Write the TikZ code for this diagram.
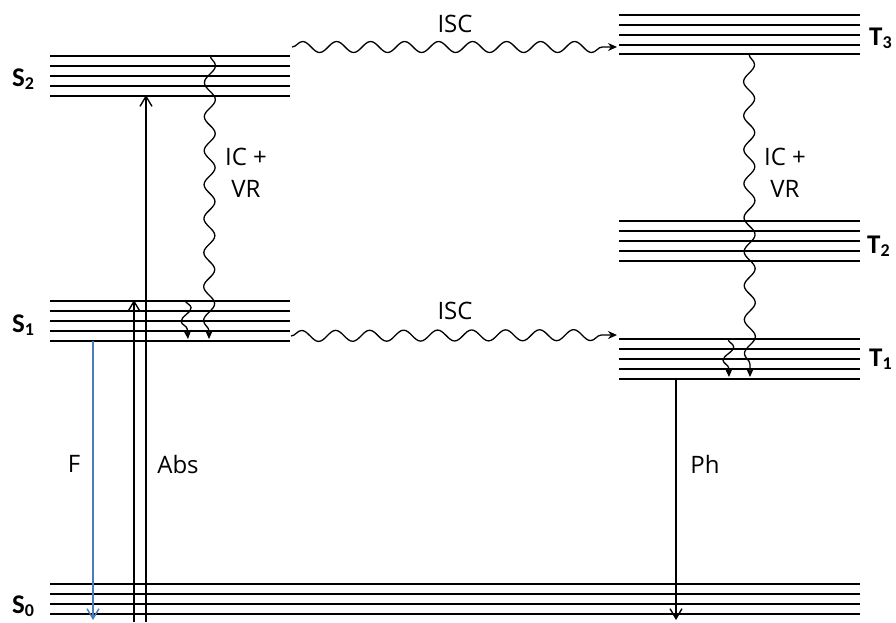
\documentclass[tikz,border=0pt]{standalone}
\usepackage{fontspec}
\setmainfont{Open Sans}
\newfontfamily\lvlfont{Carlito}
\usetikzlibrary{arrows.meta,decorations.pathmorphing}
\definecolor{fluoblue}{RGB}{74,126,187}
\newcommand{\lvlname}[2]{#1\raisebox{-0.3ex}{\fontsize{18}{18}\selectfont #2}}
\tikzset{
  level/.style={line width=1.2pt},
  ground/.style={line width=2.8pt},
  wavy/.style={-{Stealth[length=9pt,width=8pt]}, line width=1.3pt, decorate,
    decoration={snake, amplitude=5.5pt, segment length=34pt, post length=6pt}},
  shortwavy/.style={wavy, decoration={snake, amplitude=5.5pt, segment length=26pt, post length=5pt}},
  radiative/.style={-{Straight Barb[length=10pt,width=12pt]}, line width=1.4pt},
  lbl/.style={font=\fontsize{24}{32}\selectfont, align=center, inner sep=0pt},
  statelbl/.style={font=\lvlfont\bfseries\fontsize{27}{30}\selectfont, anchor=base west, inner sep=0pt}
}
\begin{document}
\begin{tikzpicture}[x=1pt,y=-1pt]
\useasboundingbox (0,0) rectangle (896,622);
\foreach \y in {56,66,76,86} \draw[level] (50,\y) -- (290,\y);
\draw[ground] (50,96) -- (290,96);
\foreach \y in {301,311,321,331} \draw[level] (50,\y) -- (290,\y);
\draw[ground] (50,341) -- (290,341);
\foreach \y in {584,594,604,614} \draw[level] (50,\y) -- (860,\y);
\foreach \y in {15,25,35,45} \draw[level] (619,\y) -- (860,\y);
\draw[ground] (619,54) -- (860,54);
\foreach \y in {221,231,241,251} \draw[level] (619,\y) -- (860,\y);
\draw[ground] (619,261) -- (860,261);
\foreach \y in {339,349,359,369} \draw[level] (619,\y) -- (860,\y);
\draw[ground] (619,379) -- (860,379);
\node[statelbl] (S2) at (12,86) {\lvlname{S}{2}};
\node[statelbl] (S1) at (12,332) {\lvlname{S}{1}};
\node[statelbl] (S0) at (12,613) {\lvlname{S}{0}};
\node[statelbl] (T3) at (869,45) {\lvlname{T}{3}};
\node[statelbl] (T2) at (867,253) {\lvlname{T}{2}};
\node[statelbl] (T1) at (869,366) {\lvlname{T}{1}};
\node[lbl] (iscup) at (455,24) {ISC};
\node[lbl] (isclow) at (455,311) {ISC};
\node[lbl] (icvrS) at (246,173) {IC +\\VR};
\node[lbl] (icvrT) at (785,173) {IC +\\VR};
\node[lbl] (fl) at (74,464) {F};
\node[lbl] (abs) at (178,464) {Abs};
\node[lbl] (ph) at (705,464) {Ph};
\coordinate (absbot1) at (134,622);
\coordinate (abstop1) at (134,300);
\coordinate (absbot2) at (146,622);
\coordinate (abstop2) at (146,95);
\coordinate (flstart) at (93,341);
\coordinate (flend) at (93,620);
\coordinate (phstart) at (676,379);
\coordinate (phend) at (676,620);
\coordinate (iscAstart) at (292,47);
\coordinate (iscAend) at (617,47);
\coordinate (iscBstart) at (291,336);
\coordinate (iscBend) at (617,335);
\coordinate (vrS2top) at (210,55);
\coordinate (vrS2end) at (209,339);
\coordinate (vrS1top) at (185,300);
\coordinate (vrS1end) at (188,339);
\coordinate (vrT3top) at (749,54);
\coordinate (vrT3end) at (750,377);
\coordinate (vrT1top) at (728,339);
\coordinate (vrT1end) at (729,377);
\draw[radiative] (absbot1) -- (abstop1);
\draw[radiative] (absbot2) -- (abstop2);
\draw[radiative, fluoblue] (flstart) -- (flend);
\draw[radiative] (phstart) -- (phend);
\draw[wavy] (iscAstart) -- (iscAend);
\draw[wavy] (iscBstart) -- (iscBend);
\draw[wavy] (vrS2top) -- (vrS2end);
\draw[shortwavy] (vrS1top) -- (vrS1end);
\draw[wavy] (vrT3top) -- (vrT3end);
\draw[shortwavy] (vrT1top) -- (vrT1end);
\end{tikzpicture}
\end{document}
